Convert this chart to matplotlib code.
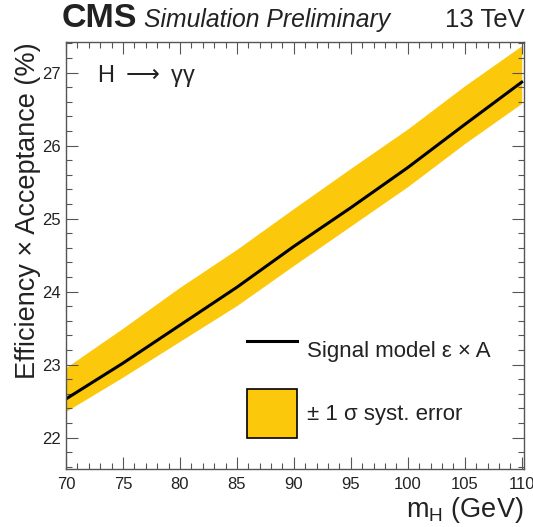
import numpy as np
import matplotlib.pyplot as plt
from matplotlib.lines import Line2D
from matplotlib.patches import Patch
from matplotlib.ticker import MultipleLocator

plt.rcParams['font.family'] = ['Liberation Sans', 'DejaVu Sans']
plt.rcParams['mathtext.fontset'] = 'custom'
plt.rcParams['mathtext.rm'] = 'Liberation Sans'
plt.rcParams['mathtext.it'] = 'Liberation Sans:italic'

# Higgs mass points (GeV) and efficiency x acceptance (%)
mass = [70, 75, 80, 85, 90, 95, 100, 105, 110]
eff_acc = [22.53, 23.02, 23.54, 24.06, 24.62, 25.15, 25.70, 26.29, 26.87]
syst_up = [22.96, 23.50, 24.06, 24.58, 25.14, 25.69, 26.23, 26.82, 27.37]
syst_down = [22.36, 22.83, 23.32, 23.81, 24.36, 24.90, 25.44, 26.03, 26.58]

yellow = '#fcc80b'
tcol = '#222222'

fig = plt.figure(figsize=(5.33, 5.27), dpi=100)
ax = fig.add_axes([66 / 533, 1 - 469 / 527, (524 - 66) / 533, (469 - 42) / 527])

band = ax.fill_between(mass, syst_down, syst_up, color=yellow, lw=0)
line, = ax.plot(mass, eff_acc, color='black', lw=2.2)

ax.set_xlim(70, 110.2)
ax.set_ylim(21.57, 27.42)
ax.xaxis.set_major_locator(MultipleLocator(5))
ax.xaxis.set_minor_locator(MultipleLocator(1))
ax.yaxis.set_major_locator(MultipleLocator(1))
ax.yaxis.set_minor_locator(MultipleLocator(0.2))
ax.tick_params(which='both', direction='in', top=True, right=True,
               color='#555555', width=0.8, labelsize=12, labelcolor=tcol)
ax.tick_params(which='major', length=8.5)
ax.tick_params(which='minor', length=4.5)
ax.tick_params(axis='x', pad=6)
ax.tick_params(axis='y', pad=4)
for s in ax.spines.values():
    s.set_color('#555555')
    s.set_linewidth(1.0)

ax.set_xlabel(r'm$_{\mathrm{H}}$ (GeV)', fontsize=19.5, color=tcol, loc='right')
ax.set_ylabel('Efficiency × Acceptance (%)', fontsize=19.5, color=tcol, loc='top')
ax.yaxis.set_label_coords(-0.055, 1.0)
ax.xaxis.set_label_coords(1.0, -0.062)

fig.text(62 / 533, 1 - 27 / 527, 'CMS', fontsize=24.5, fontweight='bold', color=tcol)
fig.text(144 / 533, 1 - 27 / 527, 'Simulation Preliminary', fontsize=17.8,
         style='italic', color=tcol)
fig.text(525 / 533, 1 - 27 / 527, '13 TeV', fontsize=18.5, color=tcol, ha='right')
fig.text(97 / 533, 1 - 82 / 527, r'H $\longrightarrow$ γγ', fontsize=17, color=tcol,
         math_fontfamily='dejavusans')

handles = [Line2D([], [], color='black', lw=2.2),
           Patch(facecolor=yellow, edgecolor='black', lw=1.2)]
labels = ['Signal model ε × A', '± 1 σ syst. error']
ax.legend(handles, labels, loc='upper left', frameon=False, fontsize=16,
          bbox_to_anchor=(247 / 533, 1 - 326 / 527), bbox_transform=fig.transFigure,
          borderpad=0, borderaxespad=0, handlelength=2.25, handleheight=3.0,
          handletextpad=0.45, labelspacing=0.65, labelcolor=tcol)

fig.savefig('out.png', dpi=100)
